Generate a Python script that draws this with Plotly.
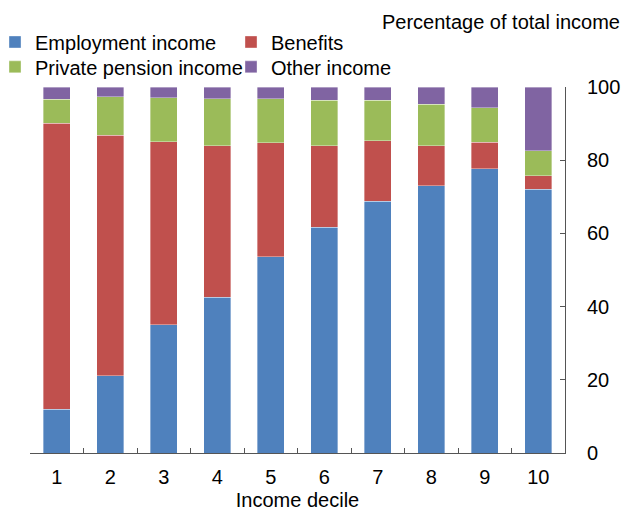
import plotly.graph_objects as go

# Income deciles and share of total income (%) by source
deciles = ["1", "2", "3", "4", "5", "6", "7", "8", "9", "10"]
employment = [11.9, 21.1, 35.0, 42.5, 53.6, 61.7, 68.8, 73.0, 77.7, 72.1]
benefits = [78.2, 65.7, 50.1, 41.5, 31.2, 22.3, 16.5, 11.0, 7.2, 3.7]
private_pension = [6.6, 10.5, 12.0, 12.8, 12.0, 12.4, 11.1, 11.3, 9.4, 6.8]
other = [3.3, 2.7, 2.9, 3.2, 3.2, 3.6, 3.6, 4.7, 5.7, 17.4]

# (name, values, colour, legend row)
series = [
    ("Employment income", employment, "#4F81BD", "legend"),
    ("Benefits", benefits, "#C0504D", "legend"),
    ("Private pension income", private_pension, "#9BBB59", "legend2"),
    ("Other income", other, "#8064A2", "legend2"),
]

FONT = "Liberation Sans, Arial, sans-serif"
FS = 20

fig = go.Figure()
for name, vals, color, leg in series:
    fig.add_trace(go.Bar(
        x=deciles, y=vals, name=name, legend=leg,
        marker=dict(color=color, line=dict(color="rgba(255,255,255,0.6)", width=0.6)),
    ))

legend_common = dict(
    orientation="h", traceorder="normal",
    xanchor="left", yanchor="middle",
    entrywidth=191, entrywidthmode="pixels",
    itemwidth=30, font=dict(family=FONT, size=FS),
    bgcolor="rgba(0,0,0,0)",
)

fig.update_layout(
    width=624, height=511,
    barmode="stack", bargap=0.5,
    plot_bgcolor="white", paper_bgcolor="white",
    margin=dict(l=30, r=59, t=87, b=58, autoexpand=False),
    font=dict(family=FONT, size=FS, color="black"),
    showlegend=True,
    legend=dict(x=-0.0654, y=1.123, **legend_common),
    legend2=dict(x=-0.0654, y=1.055, **legend_common),
    xaxis=dict(
        type="category", showline=True, linecolor="#555555", linewidth=1,
        ticks="inside", tickson="boundaries", ticklen=5, tickcolor="#555555",
        showgrid=False, zeroline=False, ticklabelstandoff=6,
        title=dict(text="Income decile", standoff=14, font=dict(size=FS)),
    ),
    yaxis=dict(
        side="right", range=[0, 100], dtick=20,
        showline=True, linecolor="#555555", linewidth=1,
        ticks="inside", ticklen=5, tickcolor="#555555",
        showgrid=False, zeroline=False, ticklabelstandoff=17,
    ),
    annotations=[dict(
        text="Percentage of total income", xref="paper", yref="paper",
        x=1.1065, y=1.1776, xanchor="right", yanchor="middle", showarrow=False,
        font=dict(family=FONT, size=FS),
    )],
)

fig.write_html("out.html")
